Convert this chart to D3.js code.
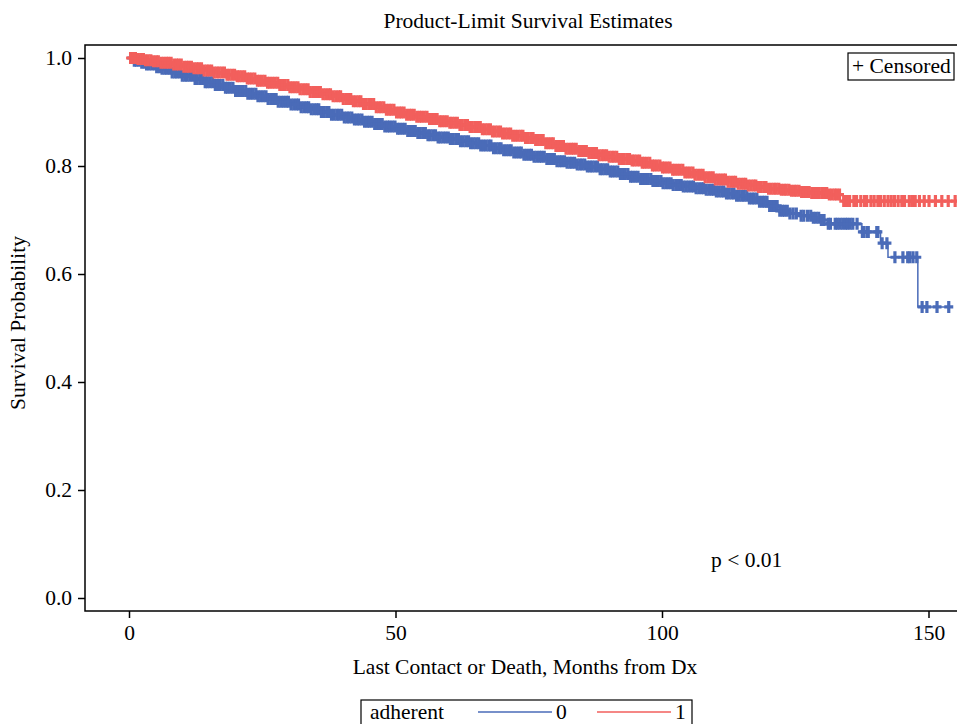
<!DOCTYPE html>
<html>
<head>
<meta charset="utf-8">
<script src="https://cdn.jsdelivr.net/npm/d3@7"></script>
<style>
  body { margin: 0; background: #fff; }
  svg text { font-family: "Liberation Serif", "Times New Roman", serif; fill: #000; font-size: 21.5px; }
</style>
</head>
<body>
<div id="chart"></div>
<script>
// Kaplan-Meier step points, group 0 (not adherent)
var time0 = [0, 1, 2, 3, 5, 6, 8, 10, 12, 14, 16, 18, 20, 22, 24, 26, 28, 30, 32, 34, 36, 38, 40, 42, 44, 46, 48, 50,
  52, 54, 56, 58, 60, 62, 64, 66, 68, 70, 72, 74, 76, 78, 80, 82, 84, 86, 88, 90, 92, 94, 96, 98, 100, 102, 104, 106,
  108, 110, 112, 114, 116, 118, 120, 122, 124, 126, 128, 129.5, 131, 137.5, 141, 142.4, 148, 154.4];
var surv0 = [1, 0.995, 0.991, 0.988, 0.983, 0.98, 0.973, 0.967, 0.961, 0.955, 0.95, 0.945, 0.939, 0.934, 0.929, 0.924,
  0.919, 0.914, 0.909, 0.905, 0.9, 0.895, 0.89, 0.886, 0.882, 0.878, 0.873, 0.869, 0.865, 0.861, 0.857, 0.853, 0.85,
  0.846, 0.842, 0.838, 0.833, 0.829, 0.825, 0.821, 0.817, 0.813, 0.809, 0.806, 0.803, 0.799, 0.794, 0.79, 0.785, 0.78,
  0.776, 0.772, 0.768, 0.765, 0.762, 0.759, 0.756, 0.753, 0.749, 0.745, 0.74, 0.734, 0.726, 0.717, 0.712, 0.708, 0.704,
  0.7, 0.693, 0.678, 0.657, 0.631, 0.539, 0.539];

// group 1 (adherent)
var time1 = [0, 1.5, 3, 4.5, 6, 8, 10, 12, 14, 16, 18, 20, 22, 24, 26, 28, 30, 32, 34, 36, 38, 40, 42, 44, 46, 48, 50,
  52, 54, 56, 58, 60, 62, 64, 66, 68, 70, 72, 74, 76, 78, 80, 82, 84, 86, 88, 90, 92, 94, 96, 98, 100, 102, 104, 106,
  108, 110, 112, 114, 116, 118, 120, 122, 124, 126, 128, 131, 134, 156];
var surv1 = [1, 0.998, 0.996, 0.994, 0.991, 0.988, 0.984, 0.981, 0.977, 0.973, 0.969, 0.966, 0.962, 0.958, 0.954, 0.95,
  0.946, 0.942, 0.937, 0.933, 0.929, 0.924, 0.92, 0.915, 0.909, 0.904, 0.899, 0.895, 0.891, 0.887, 0.883, 0.88, 0.876,
  0.872, 0.868, 0.864, 0.86, 0.856, 0.852, 0.848, 0.842, 0.837, 0.832, 0.828, 0.824, 0.82, 0.817, 0.813, 0.81, 0.806,
  0.801, 0.797, 0.793, 0.788, 0.784, 0.779, 0.775, 0.771, 0.767, 0.764, 0.761, 0.758, 0.756, 0.754, 0.752, 0.75, 0.747,
  0.735, 0.735];

// censored times (months)
var cens0 = [0.5, 1, 1.4, 1.9, 2.4, 2.9, 3.3, 3.8, 4.3, 4.8, 5.2, 5.7, 6.2, 6.7, 7.1, 7.6, 8.1, 8.6, 9, 9.5, 10, 10.5,
  10.9, 11.4, 11.9, 12.4, 12.8, 13.3, 13.8, 14.3, 14.7, 15.2, 15.7, 16.2, 16.6, 17.1, 17.6, 18.1, 18.5, 19, 19.5, 20,
  20.4, 20.9, 21.4, 21.9, 22.3, 22.8, 23.3, 23.8, 24.2, 24.7, 25.2, 25.7, 26.1, 26.6, 27.1, 27.6, 28, 28.5, 29, 29.5,
  29.9, 30.4, 30.9, 31.4, 31.8, 32.3, 32.8, 33.3, 33.7, 34.2, 34.7, 35.2, 35.6, 36.1, 36.6, 37.1, 37.5, 38, 38.5, 39,
  39.4, 39.9, 40.4, 40.9, 41.3, 41.8, 42.3, 42.8, 43.2, 43.7, 44.2, 44.7, 45.1, 45.6, 46.1, 46.6, 47, 47.5, 48, 48.5,
  48.9, 49.4, 49.9, 50.4, 50.8, 51.3, 51.8, 52.3, 52.7, 53.2, 53.7, 54.2, 54.6, 55.1, 55.6, 56.1, 56.5, 57, 57.5, 58,
  58.4, 58.9, 59.4, 59.9, 60.3, 60.8, 61.3, 61.8, 62.2, 62.7, 63.2, 63.7, 64.1, 64.6, 65.1, 65.6, 66, 66.5, 67, 67.5,
  67.9, 68.4, 68.9, 69.4, 69.8, 70.3, 70.8, 71.3, 71.7, 72.2, 72.7, 73.2, 73.6, 74.1, 74.6, 75.1, 75.5, 76, 76.5, 77,
  77.4, 77.9, 78.4, 78.9, 79.3, 79.8, 80.3, 80.8, 81.2, 81.7, 82.2, 82.7, 83.1, 83.6, 84.1, 84.6, 85, 85.5, 86, 86.5,
  86.9, 87.4, 87.9, 88.4, 88.8, 89.3, 89.8, 90.3, 90.7, 91.2, 91.7, 92.2, 92.6, 93.1, 93.6, 94.1, 94.5, 95, 95.5, 96,
  96.4, 96.9, 97.4, 97.9, 98.3, 98.8, 99.3, 99.8, 100.2, 100.7, 101.2, 101.7, 102.1, 102.6, 103.1, 103.6, 104, 104.5,
  105, 105.5, 105.9, 106.4, 106.9, 107.4, 107.8, 108.3, 108.8, 109.3, 109.7, 110.2, 110.7, 111.2, 111.6, 112.1, 112.6,
  113.1, 113.5, 114, 114.5, 115, 115.4, 115.9, 116.4, 116.9, 117.3, 117.8, 118.3, 118.8, 119.2, 119.7, 120.2, 120.7,
  121.1, 121.6, 122.1, 122.6, 123, 123.5, 124, 124.6, 125.2, 126.1, 126.6, 127.3, 127.9, 128.4, 128.9, 129.4, 129.9,
  130.4, 131.2, 131.6, 132.5, 132.9, 133.4, 133.9, 134.4, 134.8, 135.3, 135.8, 136.6, 137.6, 137.9, 138.5, 138.7, 140.3,
  140.5, 141.3, 142.2, 143.7, 145.2, 146.1, 146.5, 147.1, 147.8, 148.8, 149.7, 151.6, 153.8];
var cens1 = [0.3, 0.8, 1.2, 1.7, 2.2, 2.7, 3.1, 3.6, 4.1, 4.6, 5.1, 5.5, 6, 6.5, 7, 7.4, 7.9, 8.4, 8.9, 9.3, 9.8, 10.3,
  10.8, 11.2, 11.7, 12.2, 12.7, 13.1, 13.6, 14.1, 14.6, 15, 15.5, 16, 16.5, 16.9, 17.4, 17.9, 18.4, 18.8, 19.3, 19.8,
  20.3, 20.7, 21.2, 21.7, 22.2, 22.6, 23.1, 23.6, 24.1, 24.5, 25, 25.5, 26, 26.4, 26.9, 27.4, 27.9, 28.3, 28.8, 29.3,
  29.8, 30.2, 30.7, 31.2, 31.7, 32.1, 32.6, 33.1, 33.6, 34, 34.5, 35, 35.5, 35.9, 36.4, 36.9, 37.4, 37.8, 38.3, 38.8,
  39.3, 39.7, 40.2, 40.7, 41.2, 41.6, 42.1, 42.6, 43.1, 43.5, 44, 44.5, 45, 45.4, 45.9, 46.4, 46.9, 47.3, 47.8, 48.3,
  48.8, 49.2, 49.7, 50.2, 50.7, 51.1, 51.6, 52.1, 52.6, 53, 53.5, 54, 54.5, 54.9, 55.4, 55.9, 56.4, 56.8, 57.3, 57.8,
  58.3, 58.7, 59.2, 59.7, 60.2, 60.6, 61.1, 61.6, 62.1, 62.5, 63, 63.5, 64, 64.4, 64.9, 65.4, 65.9, 66.3, 66.8, 67.3,
  67.8, 68.2, 68.7, 69.2, 69.7, 70.1, 70.6, 71.1, 71.6, 72, 72.5, 73, 73.5, 73.9, 74.4, 74.9, 75.4, 75.8, 76.3, 76.8,
  77.3, 77.7, 78.2, 78.7, 79.2, 79.6, 80.1, 80.6, 81.1, 81.5, 82, 82.5, 83, 83.4, 83.9, 84.4, 84.9, 85.3, 85.8, 86.3,
  86.8, 87.2, 87.7, 88.2, 88.7, 89.1, 89.6, 90.1, 90.6, 91, 91.5, 92, 92.5, 92.9, 93.4, 93.9, 94.4, 94.8, 95.3, 95.8,
  96.3, 96.7, 97.2, 97.7, 98.2, 98.6, 99.1, 99.6, 100.1, 100.5, 101, 101.5, 102, 102.4, 102.9, 103.4, 103.9, 104.3,
  104.8, 105.3, 105.8, 106.2, 106.7, 107.2, 107.7, 108.1, 108.6, 109.1, 109.6, 110, 110.5, 111, 111.5, 111.9, 112.4,
  112.9, 113.4, 113.8, 114.3, 114.8, 115.3, 115.7, 116.2, 116.7, 117.2, 117.6, 118.1, 118.6, 119.1, 119.5, 120, 120.5,
  121, 121.4, 121.9, 122.4, 122.9, 123.3, 123.8, 124.3, 124.8, 125.2, 125.7, 126.2, 126.7, 127.1, 127.6, 128.1, 128.6,
  129, 129.5, 130, 130.5, 130.9, 131.4, 131.9, 132.4, 132.8, 133.3, 134.1, 134.6, 135.2, 136, 136.5, 137.3, 138, 138.4,
  139.2, 139.8, 140.5, 141, 141.7, 142.4, 143, 143.6, 144.3, 145, 145.5, 146.4, 147, 147.5, 148.3, 149.2, 150.1, 151.3,
  152.5, 153.7, 155];

var xTicks = [0, 50, 100, 150];
var yTicks = [0, 0.2, 0.4, 0.6, 0.8, 1.0];
var groupNames = ["0", "1"];
var colors = ["#4a6bb8", "#f25f5c"];

var W = 957, H = 724;
var frame = { left: 85, top: 45, right: 966, bottom: 611 };

var svg = d3.select("#chart")
  .append("svg")
  .attr("width", W)
  .attr("height", H);

var x = d3.scaleLinear().domain([0, 150]).range([129, 928.5]);
var y = d3.scaleLinear().domain([0, 1]).range([598, 58]);

// title
svg.append("text")
  .attr("x", 528).attr("y", 28)
  .attr("text-anchor", "middle")
  .text("Product-Limit Survival Estimates");

// frame
svg.append("rect")
  .attr("x", frame.left).attr("y", frame.top)
  .attr("width", frame.right - frame.left).attr("height", frame.bottom - frame.top)
  .attr("fill", "none").attr("stroke", "#000").attr("stroke-width", 1.5);

// axes
var yAxis = svg.append("g")
  .attr("transform", "translate(" + frame.left + ",0)")
  .call(d3.axisLeft(y).tickValues(yTicks).tickSize(7).tickFormat(d3.format(".1f")));
var xAxis = svg.append("g")
  .attr("transform", "translate(0," + frame.bottom + ")")
  .call(d3.axisBottom(x).tickValues(xTicks).tickSize(7));
[xAxis, yAxis].forEach(function (g) {
  g.attr("font-size", null).attr("font-family", null);
  g.select(".domain").remove();
  g.selectAll("line").attr("stroke", "#000").attr("stroke-width", 1.5);
  g.selectAll("text").attr("fill", "#000");
});
yAxis.selectAll("text").attr("x", -13);
xAxis.selectAll("text").attr("y", 14);

svg.append("text")
  .attr("x", 525).attr("y", 674)
  .attr("text-anchor", "middle")
  .text("Last Contact or Death, Months from Dx");

svg.append("text")
  .attr("transform", "translate(25,323)rotate(-90)")
  .attr("text-anchor", "middle")
  .text("Survival Probability");

// curves, clipped to the plot frame
var plot = svg.append("g");
plot.append("clipPath").attr("id", "clip")
  .append("rect").attr("x", frame.left).attr("y", frame.top)
  .attr("width", W - frame.left).attr("height", frame.bottom - frame.top);
plot.attr("clip-path", "url(#clip)");

var groups = [
  { times: time0, surv: surv0, cens: cens0, color: colors[0] },
  { times: time1, surv: surv1, cens: cens1, color: colors[1] }
];

var line = d3.line()
  .x(d => x(d[0]))
  .y(d => y(d[1]))
  .curve(d3.curveStepAfter);

var bis = d3.bisector(d => d).right;

groups.forEach(function (g) {
  var pts = g.times.map((t, i) => [t, g.surv[i]]);
  plot.append("path")
    .datum(pts)
    .attr("d", line)
    .attr("fill", "none")
    .attr("stroke", g.color)
    .attr("stroke-width", 1.5);

  // censor marks (+) sit on the curve value at their time
  plot.selectAll(null)
    .data(g.cens)
    .enter()
    .append("path")
    .attr("d", function (t) {
      var s = g.surv[Math.max(0, bis(g.times, t) - 1)];
      var cx = x(t), cy = y(s);
      return "M" + (cx - 4.5) + "," + cy + "H" + (cx + 4.5) + "M" + cx + "," + (cy - 6) + "V" + (cy + 6);
    })
    .attr("stroke", g.color)
    .attr("stroke-width", 3.2)
    .attr("fill", "none");
});

// p-value
svg.append("text")
  .attr("x", 711).attr("y", 567)
  .text("p < 0.01");

// censored legend
svg.append("rect")
  .attr("x", 848).attr("y", 53).attr("width", 106).attr("height", 27)
  .attr("fill", "#fff").attr("stroke", "#000").attr("stroke-width", 1.2);
svg.append("text")
  .attr("x", 852).attr("y", 73)
  .text("+ Censored");

// group legend
var leg = svg.append("g");
leg.append("rect")
  .attr("x", 361).attr("y", 700).attr("width", 331).attr("height", 40)
  .attr("fill", "none").attr("stroke", "#000").attr("stroke-width", 1.2);
leg.append("text")
  .attr("x", 370).attr("y", 719)
  .text("adherent");
var legX = [478, 597];
groupNames.forEach(function (n, i) {
  leg.append("line")
    .attr("x1", legX[i]).attr("x2", legX[i] + 74)
    .attr("y1", 712).attr("y2", 712)
    .attr("stroke", colors[i]).attr("stroke-width", 1.5);
  leg.append("text")
    .attr("x", legX[i] + 78).attr("y", 719)
    .text(n);
});
</script>
</body>
</html>
